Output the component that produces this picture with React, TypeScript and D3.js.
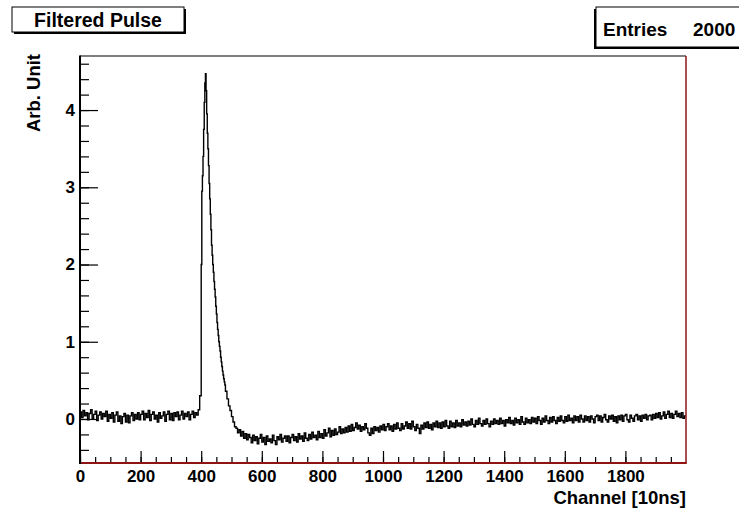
import { useRef, useEffect } from 'react';
import * as d3 from 'd3';

// ----------------------------------------------------------------------------
// Filtered pulse — ROOT style histogram (channel vs. amplitude)
// ----------------------------------------------------------------------------

const WIDTH = 739;
const HEIGHT = 510;

// pre-trigger baseline, 5-channel bins, channels 0-399
const preTrigger = [
  0.09, 0.02, 0.11, 0.04, 0.08, -0.01, 0.07, 0.12, 0.01, 0.06, 0.10, -0.02, 0.05, 0.09, 0.00, 0.07, 0.03, 0.10, -0.03, 0.06,
  0.01, 0.08, -0.04, 0.05, 0.09, -0.03, 0.04, -0.06, 0.03, 0.07, -0.04, 0.05, -0.05, 0.04, 0.08, -0.02, 0.06, 0.00, 0.08, -0.01,
  0.06, 0.10, -0.01, 0.07, 0.02, 0.11, -0.02, 0.06, 0.09, 0.00, 0.05, -0.04, 0.08, 0.01, 0.04, 0.09, -0.03, 0.06, 0.10, -0.01,
  0.07, -0.02, 0.08, 0.03, 0.09, -0.01, 0.05, 0.10, 0.00, 0.07, 0.03, 0.09, -0.01, 0.06, 0.10, 0.02, 0.08, 0.05, 0.12, 0.30,
];

// pulse, 2-channel bins, channels 400-479
const pulsePeak = [
  2.0, 2.95, 3.15, 3.4, 3.75, 4.1, 4.35, 4.47, 4.25, 3.95,
  3.7, 3.5, 3.28, 3.05, 2.85, 2.65, 2.45, 2.25, 2.12, 2.0,
  1.9, 1.78, 1.68, 1.58, 1.46, 1.36, 1.25, 1.16, 1.08, 1.0,
  0.94, 0.88, 0.8, 0.74, 0.68, 0.62, 0.57, 0.52, 0.48, 0.44,
];

// undershoot and slow recovery, 5-channel bins, channels 480-1999
const recovery = [
  0.36, 0.26, 0.17, 0.11, 0.03, -0.04, -0.10, -0.12, -0.18, -0.14, -0.22, -0.16, -0.25, -0.19, -0.27, -0.20, -0.24, -0.31, -0.21, -0.28,
  -0.23, -0.32, -0.25, -0.20, -0.30, -0.24, -0.33, -0.22, -0.29, -0.26, -0.31, -0.21, -0.28, -0.33, -0.23, -0.27, -0.20, -0.30, -0.25, -0.22,
  -0.29, -0.22, -0.31, -0.24, -0.20, -0.28, -0.23, -0.30, -0.19, -0.26, -0.22, -0.29, -0.18, -0.25, -0.28, -0.20, -0.26, -0.17, -0.24, -0.21,
  -0.27, -0.16, -0.24, -0.19, -0.25, -0.14, -0.22, -0.18, -0.12, -0.23, -0.15, -0.21, -0.13, -0.20, -0.17, -0.10, -0.19, -0.13, -0.18, -0.11,
  -0.17, -0.09, -0.16, -0.07, -0.15, -0.11, -0.05, -0.13, -0.08, -0.16, -0.10, -0.14, -0.06, -0.12, -0.18, -0.21, -0.12, -0.19, -0.10, -0.15,
  -0.11, -0.17, -0.09, -0.14, -0.07, -0.15, -0.10, -0.06, -0.14, -0.09, -0.16, -0.07, -0.13, -0.05, -0.12, -0.15, -0.06, -0.13, -0.09, -0.04,
  -0.12, -0.06, -0.13, -0.03, -0.10, -0.15, -0.07, -0.12, -0.19, -0.08, -0.13, -0.05, -0.11, -0.04, -0.12, -0.07, -0.14, -0.05, -0.10, -0.03,
  -0.11, -0.05, -0.12, -0.04, -0.10, -0.02, -0.09, -0.12, -0.03, -0.10, -0.05, -0.11, -0.02, -0.09, -0.05, -0.10, -0.01, -0.08, -0.04, -0.09,
  -0.03, -0.08, 0.00, -0.07, -0.10, -0.02, -0.07, 0.01, -0.06, -0.09, -0.02, -0.07, 0.00, -0.06, -0.10, -0.03, -0.07, 0.00, -0.06, -0.02,
  -0.07, 0.01, -0.06, -0.02, -0.09, -0.01, -0.05, 0.02, -0.06, -0.02, -0.08, 0.01, -0.05, -0.01, -0.07, 0.03, -0.04, -0.07, 0.01, -0.05,
  -0.01, -0.06, 0.02, -0.04, 0.01, -0.06, 0.03, -0.02, -0.07, 0.01, -0.04, 0.04, -0.02, -0.06, 0.02, -0.04, 0.03, -0.02, -0.06, 0.02,
  -0.03, 0.04, -0.02, -0.05, 0.03, -0.03, 0.05, -0.02, 0.01, -0.05, 0.04, -0.02, 0.03, -0.04, 0.05, 0.00, -0.04, 0.04, -0.02, 0.03,
  -0.04, 0.04, 0.00, -0.05, 0.03, 0.05, -0.02, 0.04, -0.04, 0.02, 0.06, -0.01, -0.04, 0.04, 0.00, 0.05, -0.03, 0.03, -0.05, 0.04,
  -0.01, 0.05, -0.03, 0.04, 0.06, -0.01, -0.04, 0.05, 0.01, -0.03, 0.04, 0.06, -0.01, 0.04, -0.03, 0.05, 0.01, 0.06, -0.01, 0.04,
  0.05, -0.01, 0.06, 0.01, 0.07, 0.02, 0.08, 0.00, 0.04, 0.09, 0.01, 0.06, 0.10, 0.02, 0.07, 0.01, 0.06, 0.10, 0.03, 0.07,
  0.02, 0.08, 0.01, 0.04,
];

const segments = [
  { start: 0, step: 5, values: preTrigger },
  { start: 400, step: 2, values: pulsePeak },
  { start: 480, step: 5, values: recovery },
];

const xMajorTicks = [0, 200, 400, 600, 800, 1000, 1200, 1400, 1600, 1800];
const yMajorTicks = [0, 1, 2, 3, 4];

const TITLE = 'Filtered Pulse';
const X_TITLE = 'Channel [10ns]';
const Y_TITLE = 'Arb. Unit';
const ENTRIES_LABEL = 'Entries';
const ENTRIES = 2000;

const FONT = '"Liberation Sans", Arial, Helvetica, sans-serif';
const FRAME_RED = '#8e1414';

export default function App() {
  const svgRef = useRef<SVGSVGElement>(null);

  useEffect(() => {
    if (!svgRef.current) return;
    const svg = d3.select(svgRef.current);
    svg.selectAll('*').remove();

    const frame = { left: 80, right: 686, top: 56, bottom: 463 };

    const x = d3.scaleLinear().domain([0, 2000]).range([frame.left, frame.right]);
    const y = d3.scaleLinear().domain([-0.57, 4.7]).range([frame.bottom, frame.top]);

    svg.append('rect').attr('width', WIDTH).attr('height', HEIGHT).attr('fill', '#fff');

    // histogram points
    const points: { ch: number; v: number }[] = [];
    segments.forEach((s) => {
      s.values.forEach((v, i) => points.push({ ch: s.start + i * s.step, v }));
    });
    points.push({ ch: 2000, v: points[points.length - 1].v });

    const line = d3
      .line<{ ch: number; v: number }>()
      .x((d) => x(d.ch))
      .y((d) => y(d.v))
      .curve(d3.curveStepAfter);

    svg
      .append('path')
      .datum(points)
      .attr('d', line)
      .attr('fill', 'none')
      .attr('stroke', '#000')
      .attr('stroke-width', 1.4);

    // x axis: minor then major ticks, pointing up into the frame
    const xMinor = d3
      .axisBottom(x)
      .tickValues(d3.range(0, 2000, 50))
      .tickSize(-6)
      .tickSizeOuter(0)
      .tickFormat(() => '');
    svg.append('g').attr('transform', `translate(0,${frame.bottom})`).call(xMinor);

    const xMajor = d3
      .axisBottom(x)
      .tickValues(xMajorTicks)
      .tickSize(-12)
      .tickSizeOuter(0)
      .tickPadding(7)
      .tickFormat((d) => String(d));
    svg
      .append('g')
      .attr('transform', `translate(0,${frame.bottom})`)
      .call(xMajor)
      .selectAll('text')
      .style('font-family', FONT)
      .style('font-weight', 'bold')
      .style('font-size', '17px')
      .style('fill', '#000');

    // y axis: ticks pointing right into the frame
    const yMinor = d3
      .axisLeft(y)
      .tickValues(d3.range(-4, 47, 2).map((v) => v / 10))
      .tickSize(-9)
      .tickSizeOuter(0)
      .tickFormat(() => '');
    svg.append('g').attr('transform', `translate(${frame.left},0)`).call(yMinor);

    const yMajor = d3
      .axisLeft(y)
      .tickValues(yMajorTicks)
      .tickSize(-18)
      .tickSizeOuter(0)
      .tickPadding(5)
      .tickFormat((d) => String(d));
    svg
      .append('g')
      .attr('transform', `translate(${frame.left},0)`)
      .call(yMajor)
      .selectAll('text')
      .style('font-family', FONT)
      .style('font-weight', 'bold')
      .style('font-size', '17px')
      .style('fill', '#000');

    svg.selectAll('.domain').remove();
    svg.selectAll('.tick line').attr('stroke', '#000').attr('stroke-width', 1.2);

    // frame
    svg.append('line')
      .attr('x1', frame.left).attr('x2', frame.right)
      .attr('y1', frame.top).attr('y2', frame.top)
      .attr('stroke', '#000').attr('stroke-width', 1.2);
    svg.append('line')
      .attr('x1', frame.right).attr('x2', frame.right)
      .attr('y1', frame.top).attr('y2', frame.bottom)
      .attr('stroke', FRAME_RED).attr('stroke-width', 1.5);
    svg.append('line')
      .attr('x1', frame.left).attr('x2', frame.right + 0.75)
      .attr('y1', frame.bottom).attr('y2', frame.bottom)
      .attr('stroke', FRAME_RED).attr('stroke-width', 2);
    svg.append('line')
      .attr('x1', frame.left).attr('x2', frame.left)
      .attr('y1', frame.top - 0.6).attr('y2', frame.bottom + 1)
      .attr('stroke', '#000').attr('stroke-width', 2);

    // axis titles
    svg.append('text')
      .attr('x', frame.right)
      .attr('y', 504)
      .attr('text-anchor', 'end')
      .style('font-family', FONT)
      .style('font-weight', 'bold')
      .style('font-size', '18.5px')
      .text(X_TITLE);

    svg.append('text')
      .attr('transform', `translate(40,${frame.top - 2}) rotate(-90)`)
      .attr('text-anchor', 'end')
      .style('font-family', FONT)
      .style('font-weight', 'bold')
      .style('font-size', '18.5px')
      .text(Y_TITLE);

    // title pave with shadow
    const tg = svg.append('g');
    tg.append('rect').attr('x', 14).attr('y', 9).attr('width', 172).attr('height', 25).attr('fill', '#000');
    tg.append('rect').attr('x', 12).attr('y', 7).attr('width', 172).attr('height', 25)
      .attr('fill', '#fff').attr('stroke', '#000').attr('stroke-width', 1);
    tg.append('text')
      .attr('x', 98).attr('y', 27)
      .attr('text-anchor', 'middle')
      .style('font-family', FONT)
      .style('font-weight', 'bold')
      .style('font-size', '19.5px')
      .text(TITLE);

    // stats box
    const sg = svg.append('g');
    sg.append('rect').attr('x', 594).attr('y', 9).attr('width', 160).attr('height', 40).attr('fill', '#000');
    sg.append('rect').attr('x', 596).attr('y', 7).attr('width', 160).attr('height', 40)
      .attr('fill', '#fff').attr('stroke', '#000').attr('stroke-width', 1);
    sg.append('text')
      .attr('x', 603).attr('y', 36)
      .style('font-family', FONT)
      .style('font-weight', 'bold')
      .style('font-size', '19px')
      .text(ENTRIES_LABEL);
    sg.append('text')
      .attr('x', 693).attr('y', 36)
      .style('font-family', FONT)
      .style('font-weight', 'bold')
      .style('font-size', '19px')
      .text(String(ENTRIES));
  }, []);

  return (
    <div style={{ position: 'absolute', left: 0, top: 0, width: WIDTH, height: HEIGHT, overflow: 'hidden', background: '#fff' }}>
      <svg ref={svgRef} width={WIDTH} height={HEIGHT} style={{ display: 'block' }} />
    </div>
  );
}
